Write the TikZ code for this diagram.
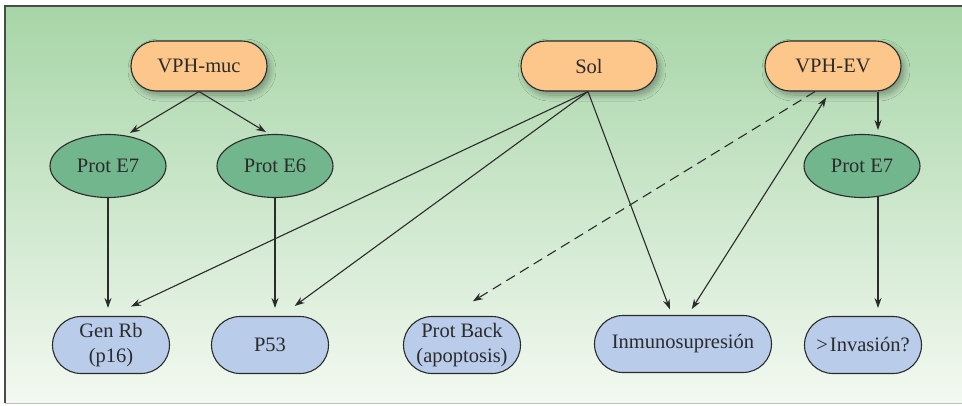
\documentclass[tikz,border=0pt]{standalone}
\usepackage{fontspec}
\setmainfont{Liberation Serif}
\usetikzlibrary{shapes.misc,shapes.geometric,arrows.meta,calc,shadows.blur}
\definecolor{bgtop}{HTML}{A7D5A7}
\definecolor{bgbot}{HTML}{F3F9F1}
\definecolor{orangefill}{HTML}{FDC68A}
\definecolor{greenfill}{HTML}{72B68D}
\definecolor{bluefill}{HTML}{B9CCEA}
\definecolor{ink}{HTML}{2B2B2B}
\newcommand{\nodefont}{\fontsize{20.5}{25}\selectfont}
\tikzset{
  base/.style={draw=ink, line width=1.1pt, text=ink, inner sep=1pt, align=center,
    font=\nodefont},
  topbox/.style={base, rounded rectangle, fill=orangefill, minimum width=138pt, minimum height=50pt,
    blur shadow={shadow xshift=3pt, shadow yshift=-4pt, shadow blur steps=10, shadow opacity=35, shadow blur radius=6pt}},
  protell/.style={base, ellipse, fill=greenfill, minimum width=116pt, minimum height=63pt},
  botbox/.style={base, rounded rectangle, fill=bluefill, minimum height=57pt},
  arr/.style={draw=ink, line width=1.1pt, -{Stealth[length=10pt,width=7pt]}},
  darr/.style={arr, dash pattern=on 10pt off 6pt},
  barr/.style={draw=ink, line width=1.1pt, {Stealth[length=10pt,width=7pt]}-{Stealth[length=10pt,width=7pt]}}
}
\begin{document}
\begin{tikzpicture}[x=1pt,y=-1pt]
\useasboundingbox (0,0) rectangle (962,405);
\fill[white] (0,0) rectangle (962,405);
\shade[top color=bgtop, bottom color=bgbot] (5,6) rectangle (962,403);
\draw[ink!85, line width=1.6pt] (5,403) -- (5,6) -- (962,6);
\draw[black!25, line width=1pt] (5,403) -- (962,403);

% top row
\node[topbox] (muc) at (199,66) {VPH-muc};
\node[topbox] (sol) at (589,66) {Sol};
\node[topbox] (ev)  at (833,66) {VPH-EV};

% proteins
\node[protell] (e7l) at (108,166) {Prot E7};
\node[protell] (e6)  at (275,166) {Prot E6};
\node[protell] (e7r) at (862,166) {Prot E7};

% bottom row
\node[botbox, minimum width=119pt] (rb)  at (111,345) {Gen Rb\\(p16)};
\node[botbox, minimum width=119pt] (p53) at (270,345) {P53};
\node[botbox, minimum width=119pt] (pb)  at (462,345) {Prot Back\\(apoptosis)};
\node[botbox, minimum width=179pt] (inm) at (683,344) {Inmunosupresión};
\node[botbox, minimum width=119pt] (inv) at (863,345) {>\kern2pt Invasión?};

% connectors
\draw[arr, shorten >=5pt] (muc.south) -- (e7l.60);
\draw[arr, shorten >=4pt] (muc.south) -- (e6.100);
\draw[arr, shorten >=8pt] (e7l.south) -- (e7l.south |- rb.north);
\draw[arr, shorten >=8pt] (e6.south) -- (e6.south |- p53.north);

\draw[arr, shorten >=22pt] ($(sol.south)+(-1,0)$) -- (rb.north);
\draw[arr, shorten >=17pt] ($(sol.south)+(-1,0)$) -- ($(p53.north)+(11,0)$);
\draw[arr, shorten >=6pt]  ($(sol.south)+(-1,0)$) -- ($(inm.north)+(-11,0)$);

\draw[darr, shorten >=28pt] ($(ev.south)+(-18,0)$) -- ($(pb.north)+(-13,0)$);
\draw[barr, shorten >=7pt, shorten <=7pt] ($(inm.north)+(5,0)$) -- ($(ev.south)+(-3,0)$);

\draw[arr, shorten >=5pt] ($(ev.south)+(45,0)$) -- ($(e7r.north)+(16,1)$);
\draw[arr, shorten >=8pt] ($(e7r.south)+(16,-2)$) -- ($(inv.north)+(15,0)$);
\end{tikzpicture}
\end{document}
